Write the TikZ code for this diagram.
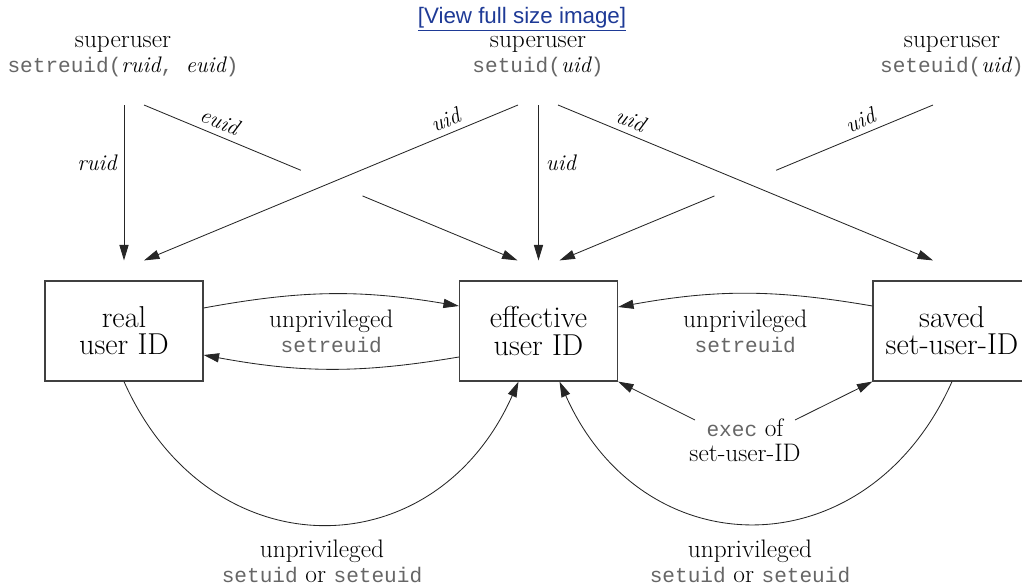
\documentclass[tikz,border=0pt]{standalone}
\usepackage{fontspec}
\setmonofont{Liberation Mono}
\newfontfamily\linkfont{Liberation Sans}
\usetikzlibrary{arrows.meta,calc}
\definecolor{linkblue}{RGB}{30,58,150}
\newcommand{\cmd}[1]{{\color{black!60}\ttfamily\fontsize{15}{17.7}\selectfont #1}}
\newcommand{\prm}[1]{{\rmfamily\itshape\fontsize{16}{17.7}\selectfont #1}}
\begin{document}
\begin{tikzpicture}[x=0.025cm,y=0.025cm,
    idbox/.style={draw=black!75,line width=0.8pt,minimum width=3.95cm,minimum height=2.5cm,
      align=center,inner sep=0pt,font=\fontsize{21.5}{19.3}\selectfont},
    lbl/.style={align=center,inner sep=0pt,font=\fontsize{18}{17.7}\selectfont},
    ital/.style={inner sep=2pt,font=\fontsize{16}{16}\selectfont\itshape},
    arr/.style={-{Triangle[length=11pt,width=6.5pt]},line width=0.6pt,draw=black!85},
    ln/.style={line width=0.6pt,draw=black!85}]
  \useasboundingbox (0,0) rectangle (1022,-585);
  \clip (0,0) rectangle (1022,-585);
  % the three IDs
  \node[idbox] (real) at (124,-331) {real\\user ID};
  \node[idbox] (eff) at (538.5,-331) {effective\\user ID};
  \node[idbox] (saved) at (952,-331) {saved\\set-user-ID};
  % calls at the top
  \node[text=linkblue,inner sep=0pt,font=\linkfont\fontsize{15.9}{16}\selectfont] (viewlink) at (522,-19) {\underline{[View full size image]}};
  \node[lbl] (sreuid) at (123,-57) {superuser\\\cmd{setreuid(}\prm{ruid}\cmd{, }\prm{euid}\cmd{)}};
  \node[lbl] (suid) at (538,-57) {superuser\\\cmd{setuid(}\prm{uid}\cmd{)}};
  \node[lbl] (seuid) at (952,-57) {superuser\\\cmd{seteuid(}\prm{uid}\cmd{)}};
  \coordinate (c1) at (124,-105);
  \coordinate (c2) at (144,-105);
  \coordinate (c3) at (518,-105);
  \coordinate (c4) at (538.5,-105);
  \coordinate (c5) at (558,-105);
  \coordinate (c6) at (933,-105);
  \coordinate (t1) at ($(real.north)+(0,20)$);
  \coordinate (t2) at ($(eff.north)+(-21,20)$);
  \coordinate (t3) at ($(real.north)+(20,20)$);
  \coordinate (t4) at ($(eff.north)+(0,20)$);
  \coordinate (t5) at ($(saved.north)+(-19,20)$);
  \coordinate (t6) at ($(eff.north)+(21,20)$);
  \draw[arr] (c1) -- node[ital,left=3pt,pos=0.37] {ruid} (t1);
  \draw[ln] (c2) -- node[ital,above=2pt,sloped,pos=0.45] {euid} ($(c2)!0.42!(t2)$);
  \draw[arr] ($(c2)!0.585!(t2)$) -- (t2);
  \draw[arr] (c3) -- node[ital,above=2pt,sloped,pos=0.18] {uid} (t3);
  \draw[arr] (c4) -- node[ital,right=3pt,pos=0.37] {uid} (t4);
  \draw[arr] (c5) -- node[ital,above=2pt,sloped,pos=0.18] {uid} (t5);
  \draw[ln] (c6) -- node[ital,above=2pt,sloped,pos=0.43] {uid} ($(c6)!0.42!(t6)$);
  \draw[arr] ($(c6)!0.585!(t6)$) -- (t6);
  % unprivileged setreuid
  \draw[arr] ($(real.east)+(0,23)$) to[bend left=10] ($(eff.west)+(0,25)$);
  \draw[arr] ($(eff.west)+(0,-26)$) to[bend left=10] ($(real.east)+(0,-24)$);
  \node[lbl] (lre) at ($(real.east)!0.5!(eff.west)+(0,0)$) {unprivileged\\\cmd{setreuid}};
  \draw[arr] ($(saved.west)+(0,25)$) to[bend right=10] ($(eff.east)+(0,24)$);
  \node[lbl] (les) at ($(eff.east)!0.5!(saved.west)+(0,0)$) {unprivileged\\\cmd{setreuid}};
  % exec
  \node[lbl] (exec) at (745,-440) {\cmd{exec} of\\set-user-ID};
  \draw[arr] ($(exec)+(-50,20)$) -- (eff.south east);
  \draw[arr] ($(exec)+(50,20)$) -- (saved.south west);
  % unprivileged setuid / seteuid
  \draw[arr] (real.south) to[out=-66,in=-114,looseness=1.35] ($(eff.south)+(-20,0)$);
  \draw[arr] (saved.south) to[out=-114,in=-66,looseness=1.35] ($(eff.south)+(21,0)$);
  \node[lbl] (lbl) at (322,-561) {unprivileged\\\cmd{setuid} or \cmd{seteuid}};
  \node[lbl] (lbr) at (750,-561) {unprivileged\\\cmd{setuid} or \cmd{seteuid}};
\end{tikzpicture}
\end{document}
